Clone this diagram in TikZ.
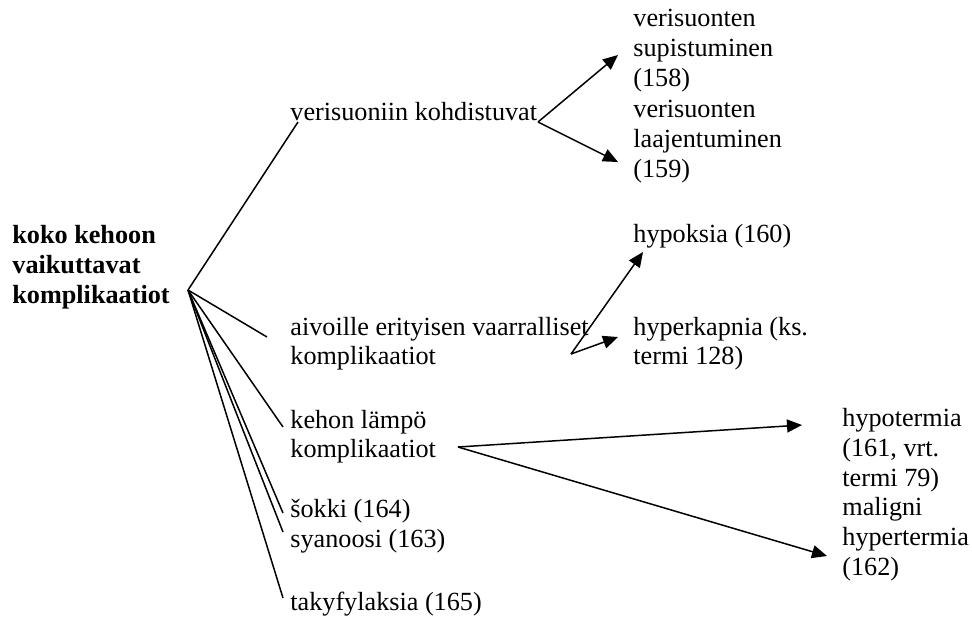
\documentclass[tikz,border=0pt]{standalone}
\usepackage{fontspec}
\setmainfont{Liberation Serif}
\usetikzlibrary{arrows.meta}
\tikzset{
  lbl/.style={anchor=base west,inner sep=0pt,align=left,font=\fontsize{13.1}{14.8}\selectfont},
  ln/.style={line width=0.75pt},
  arr/.style={ln,-{Triangle[length=7.5pt,width=6.5pt]}}
}
\begin{document}
\begin{tikzpicture}[x=0.5pt,y=-0.5pt]
\useasboundingbox (0,0) rectangle (972,617);
% texts (placed at the baseline of their last line)
\node[lbl,font=\fontsize{13.1}{14.8}\selectfont\bfseries] (root) at (12,303) {koko kehoon\\vaikuttavat\\komplikaatiot};
\node[lbl] (vk) at (290,120) {verisuoniin kohdistuvat};
\node[lbl] (sup) at (633,86) {verisuonten\\supistuminen\\(158)};
\node[lbl] (laa) at (633,177) {verisuonten\\laajentuminen\\(159)};
\node[lbl] (aiv) at (290,364.6) {aivoille erityisen vaarralliset\\komplikaatiot};
\node[lbl] (hyp) at (633,242) {hypoksia (160)};
\node[lbl] (hyk) at (633,364.6) {hyperkapnia (ks.\\termi 128)};
\node[lbl] (keh) at (290,457.6) {kehon lämpö\\komplikaatiot};
\node[lbl] (hpo) at (842,486) {hypotermia\\(161, vrt.\\termi 79)};
\node[lbl] (mal) at (842,575) {maligni\\hypertermia\\(162)};
\node[lbl] (sok) at (290,517) {šokki (164)};
\node[lbl] (sya) at (290,547) {syanoosi (163)};
\node[lbl] (tak) at (290,610) {takyfylaksia (165)};
% junctions
\coordinate (hub) at (188,290);
\coordinate (vkjoin) at (538,122);
\coordinate (aivjoin) at (571,354);
\coordinate (kehjoin) at (458,447);
% first level
\draw[ln] (hub) -- ([shift={(8,2)}]vk.base west);
\draw[ln] (hub) -- ([shift={(-23,-27.6)}]aiv.base west);
\draw[ln] (hub) -- ([shift={(-7,-30.6)}]keh.base west);
\draw[ln] (hub) -- ([shift={(-7,-4)}]sok.base west);
\draw[ln] (hub) -- ([shift={(-7,-15)}]sya.base west);
\draw[ln] (hub) -- ([shift={(-7,-12)}]tak.base west);
% second level
\draw[arr] (vkjoin) -- ([shift={(-15,-31)}]sup.base west);
\draw[arr] (vkjoin) -- ([shift={(-15,-15)}]laa.base west);
\draw[arr] (aivjoin) -- ([shift={(10,10)}]hyp.base west);
\draw[arr] (aivjoin) -- ([shift={(-15,-27.6)}]hyk.base west);
\draw[arr] (kehjoin) -- ([shift={(-40,-61)}]hpo.base west);
\draw[arr] (kehjoin) -- ([shift={(-15,-19)}]mal.base west);
\end{tikzpicture}
\end{document}
